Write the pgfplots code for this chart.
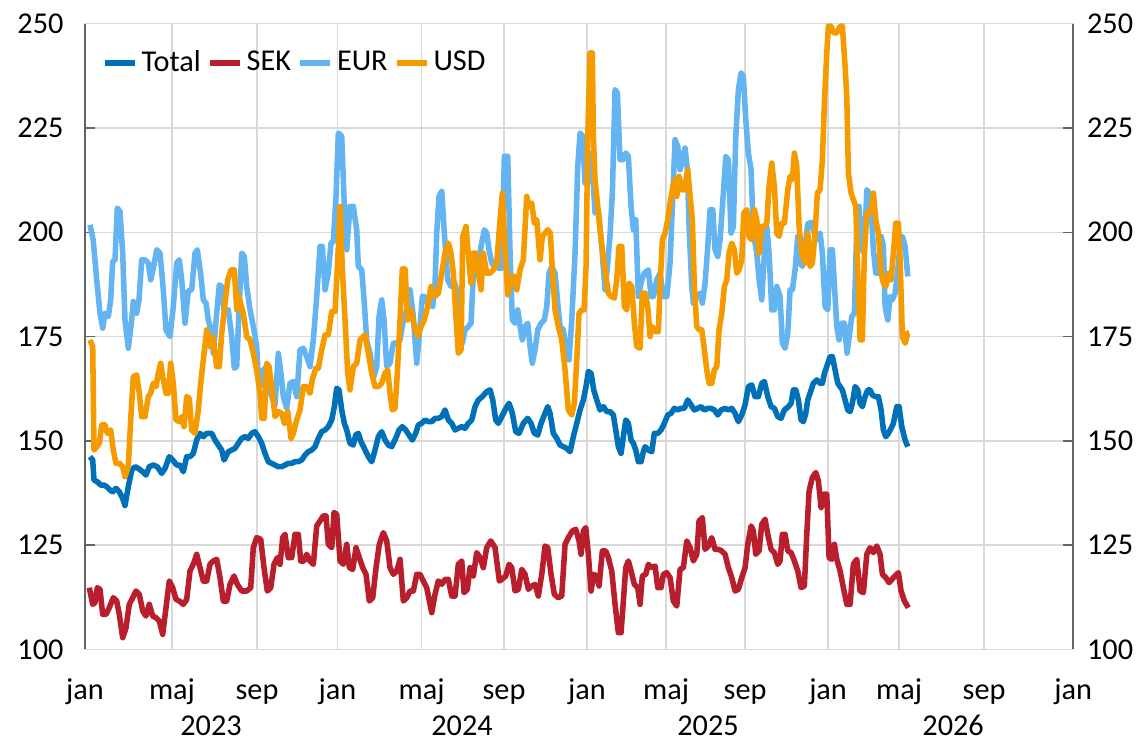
\documentclass[border=0pt]{standalone}
\usepackage{pgfplots}
\pgfplotsset{compat=1.18}
\usepackage{fontspec}
\setmainfont{Carlito}

\definecolor{cTotal}{RGB}{0,112,184}
\definecolor{cSEK}{RGB}{185,30,45}
\definecolor{cEUR}{RGB}{99,180,240}
\definecolor{cUSD}{RGB}{245,155,0}
\definecolor{gridgray}{RGB}{217,217,217}
\definecolor{axisgray}{RGB}{100,100,100}

\begin{document}
\begin{tikzpicture}
\useasboundingbox (0,0) rectangle (455.2pt,295pt);
\pgfplotsset{
  base/.style={
    scale only axis, width=391.8pt, height=248.1pt,
    at={(33.7pt,37.5pt)}, anchor=south west,
    xmin=85, xmax=1073, ymin=100, ymax=250,
    ytick={100,125,...,250},
    /pgf/number format/assume math mode=true,
    tick label style={font=\fontsize{12}{14}\selectfont},
  },
}
% x is the position along the time axis (ticks every four months, jan 2023 .. jan 2027)
\begin{axis}[base,
  xtick={85,172,257,337.5,421.5,504,587,666,745,828,899,984,1073},
  xticklabels={jan,maj,sep,jan,maj,sep,jan,maj,sep,jan,maj,sep,jan},
  xticklabel style={anchor=base, yshift=-20pt},
  xtick style={draw=none},
  ytick pos=both, yticklabel pos=left,
  ytick style={axisgray, line width=0.6pt},
  major tick length=4pt,
  yticklabel style={xshift=-5pt},
  grid=major, major grid style={gridgray, line width=0.6pt},
  axis line style={gridgray, line width=0.6pt},
  clip mode=individual,
  every axis plot/.append style={line width=2.2pt, line join=round},
  legend columns=4,
  legend style={at={(axis cs:102,240.6)}, anchor=west, draw=none, fill=none,
    inner sep=0pt, outer sep=0pt,
    nodes={inner sep=1.5pt, font=\fontsize{12}{14}\selectfont},
    /tikz/every even column/.append style={column sep=1pt}},
  legend image code/.code={\draw[#1] (0pt,0pt) -- (12pt,0pt);},
]

% Total
\addplot[cTotal] coordinates {
(90,146.2)(92.7,145.4)(94,140.6)(97.3,140.2)(100.7,139.4)(104,139.4)(106.7,139)(110,138.2)(112.7,137.8)(116,138.6)(119.3,137.8)(122.7,136.2)(125,134.5)(128.3,139)(131.7,143)(135,143.8)(138.3,143.4)(142.7,142.6)(146,141.8)(149.3,143.8)(153.3,144.2)(157.3,143.8)(161.7,142.2)(165,143.4)(169.3,146.2)(172.7,145.4)(176.7,144.2)(180,144.2)(183.3,142.6)(186.7,146.2)(190,146.2)(193.3,147)(196.7,150.2)(200,151.8)(203.3,151)(206.7,151.8)(211.7,151.8)(215,150.2)(218.3,149)(221.7,147.8)(224,145.4)(228.3,147.4)(231.7,147.8)(235,148.2)(238.3,149.4)(241.7,150.6)(245,151)(248.3,150.6)(251.7,151.8)(255,152.2)(258.3,151)(261.7,149.4)(265,147)(268.3,145)(271.7,144.6)(275,144.2)(278.3,143.8)(281.7,143.8)(285,144.2)(288.3,144.6)(291.7,144.6)(295,145)(298.3,145)(301.7,145.4)(305,146.6)(308.3,147.4)(311.7,147.8)(315,148.6)(318.3,150.6)(321.7,152.2)(325,152.6)(328.3,153.4)(331.7,155)(334.3,158.2)(336.7,162.6)(339,162.2)(341.7,157.4)(344.3,154.2)(346.7,152.6)(350,149.4)(353.3,149)(355.7,151.4)(358.3,151.8)(361,149.8)(364.3,148.2)(368.3,146.2)(371.7,145)(375,147.8)(378.3,151)(381.7,152.2)(385,150.2)(388.3,149)(391.7,148.6)(395.7,150.6)(399,152.6)(402.3,153.4)(405.7,152.6)(409,151.4)(412.3,150.2)(415.7,151.8)(418.3,153.8)(421.7,154.2)(425,155)(428.3,154.6)(431.7,154.6)(435,155.4)(438.3,155.4)(441.7,155.8)(445,157.4)(448.3,155)(451.7,154.2)(455,152.6)(458.3,153)(461.7,153.4)(465,153)(468.3,154.2)(471.7,155)(475,158.2)(478.3,159.8)(482.3,160.6)(486.7,161.8)(490,162.2)(492.7,159.8)(495.7,155)(498.3,154.2)(501.7,155.8)(505,157.4)(509,159)(512.3,156.6)(515.7,152.2)(519,151.8)(523.3,154.2)(527.7,155.4)(531,154.2)(534.3,151.8)(537.7,151.4)(541,154.2)(544.3,156.2)(547.7,158.2)(550,156.6)(553.3,151.8)(556.7,150.6)(560,149)(563.3,148.6)(566.7,148.2)(570,147.4)(573.3,151)(576.7,154.2)(580,157.4)(583.3,159.8)(586,163)(588.3,166.6)(591,166.2)(593.7,162.2)(596.7,159.8)(600,157.4)(603.3,158.2)(606.7,157)(610,157)(613.3,156.2)(615.7,152.6)(618.3,148.6)(621,147)(623.3,151)(625.7,155)(628.3,154.2)(631,150.2)(633.3,149.4)(635.7,147.8)(638.3,145)(641,145)(643.3,147.4)(645,148.6)(648.3,147.8)(651.7,147.4)(654.3,151.8)(657.7,151.8)(661,152.6)(664.3,154.2)(667.7,156.2)(671,156.6)(674.3,157.8)(677.7,157.4)(681,157.8)(684.3,157.8)(687.7,159.8)(691,158.6)(694.3,157.4)(697.7,157.8)(701,158.2)(704.3,157.4)(707.7,157.8)(711,157.8)(714.3,157.4)(717.7,156.2)(721,157.4)(725,157.8)(728.3,157.4)(731.7,157.8)(735,156.6)(738.3,154.6)(741.7,156.2)(745,158.6)(748.3,163)(751.7,163.4)(755,160.6)(758.3,160.6)(761.7,163.8)(764.3,164.2)(767.7,160.6)(771,158.2)(774.3,157.8)(777.7,155.8)(781,155.4)(784.3,157.4)(788.3,158.2)(791,159)(793.3,162.2)(795.7,162.2)(798.3,159.8)(801,155)(803.3,154.6)(805.7,156.6)(807.7,159.8)(810,161.4)(813.3,163.8)(816.7,164.6)(820,163.8)(822.3,163.8)(824.3,166.2)(826.7,167.8)(830,170.2)(832.3,170.2)(835,167)(837.7,163.8)(840,163)(842.3,162.2)(845,159.8)(847.7,157.4)(850,157)(852.3,159)(855,163)(857.7,162.2)(860,159)(862.3,158.2)(865,160.6)(867.7,162.2)(870,162.2)(872.3,161)(875,160.6)(878.3,160.6)(881,157.4)(883.3,152.6)(885.7,151)(888.3,151.8)(891,153)(893.3,154.2)(896.7,158.2)(899,158.2)(901.7,153.4)(905,150.2)(907.7,148.6)
};
\addlegendentry{Total}

% SEK
\addplot[cSEK] coordinates {
(89.3,114.8)(92.7,110.8)(95,111.2)(97.3,114.8)(100,114.4)(102.7,108.4)(106,108.4)(109.3,110)(113.3,112.4)(116.7,111.6)(119.3,108.4)(122.7,102.8)(126,105.2)(129.3,110.8)(132.7,112.4)(136,114)(139.3,113.2)(142.7,109.2)(146,108)(149.3,110.8)(152.7,108)(156,107.6)(159.3,106.8)(162.7,103.6)(166,110)(169.3,116.4)(172.7,114.8)(176,112)(179.3,111.6)(183.3,110.8)(186.7,112)(190,118.8)(193.3,120.4)(196.7,122.8)(200,119.6)(203.3,116.4)(206.7,116.4)(210,120.4)(213.3,121.2)(216.7,121.6)(220,117.2)(223.3,111.6)(226.7,111.6)(230,115.6)(234,117.6)(237.3,115.6)(241.7,114)(246.7,114)(250.7,114.8)(253.3,124.4)(256.7,126.8)(260.7,126.4)(264,119.6)(267.3,114)(270.7,114.8)(274,120.4)(277.3,122)(280,120.4)(282.7,126.8)(285,127.6)(288.3,122)(291.7,122)(295,127.6)(298.3,127.6)(300.7,121.2)(304,121.2)(306.7,122.8)(310,121.2)(313.3,120.4)(316.7,129.6)(320,130.8)(323.3,132)(326,132)(328.3,125.2)(331.7,124.4)(334,132.8)(336.7,132.4)(340,121.2)(343.3,120.4)(346.7,125.2)(349.3,119.6)(352.7,119.2)(356,124.4)(359.3,122)(362.7,119.6)(366,118)(369.3,111.6)(372.7,112.4)(376,119.6)(379.3,125.2)(383.3,128)(386.7,126)(390,119.6)(393.3,118)(396.7,118.8)(400,121.6)(403.3,111.6)(406.7,112.4)(410,114)(413.3,114)(416.7,118)(420,118)(423.3,116.4)(426.7,114.8)(431.7,108.8)(435,113.2)(438.3,116.4)(441.7,115.6)(445,116.8)(448.3,116.8)(451.7,112.8)(455,112.8)(458.3,120.4)(461.7,121.2)(464,113.6)(467.3,114.4)(470,119.6)(473.3,117.6)(476.7,123.2)(480,122)(483.3,119.6)(486.7,124.4)(490.7,126)(495,124.4)(499.3,116.4)(501.7,116.8)(505.7,117.6)(509,120.4)(511.7,119.6)(515,114)(518.3,114.4)(521.7,119.2)(525,118)(528.3,114.4)(531.7,115.2)(535,115.6)(538.3,112.8)(541.7,118)(545,124.8)(547.7,124.4)(551,118)(554.3,113.2)(558.3,112.4)(561.7,112.8)(565,125.2)(568.3,126.8)(572.3,128.4)(575.7,128.8)(579,126)(581,122.8)(583.3,128.4)(585.7,129.2)(588.3,122.8)(591,114)(593.7,118)(596.7,117.6)(599,115.2)(602.3,123.6)(605.7,123.6)(608.3,122)(611.7,118.8)(615,110.8)(618.3,104)(621,104)(623.3,111.6)(625.7,119.6)(628.3,121.2)(631,118.8)(634.3,115.6)(637.7,114.8)(640,110.8)(642.3,117.6)(645.7,118)(648.3,120.4)(651.7,119.6)(655,120)(657.7,114.8)(661,114.8)(663.3,118)(666.7,118.4)(670,117.2)(673.3,111.6)(676.7,110.4)(680,119.2)(683.3,119.6)(686.7,126)(690,124.4)(693.3,121.2)(696.7,122.8)(699,130.8)(702.3,131.6)(705,124)(708.3,124.8)(711.7,126.8)(715,124)(718.3,124)(721.7,123.6)(725,122.8)(728.3,119.6)(731.7,117.2)(735,114)(738.3,114.4)(741.7,117.2)(745,119.6)(747.7,125.2)(751,129.6)(753.3,128.4)(755.7,122.8)(759,123.6)(761.7,130)(765,131.2)(767.7,127.6)(771,124)(774.3,123.2)(777.7,120.4)(780,121.2)(782.3,127.6)(785,127.6)(787.7,123.6)(791,123.2)(794.3,121.2)(797.7,118.8)(801,114.8)(804.3,115.2)(806.7,127.6)(809,138)(812.3,141.2)(815.7,142.4)(818.3,140.4)(821,134)(823.3,137.2)(826.7,137.2)(829,122)(831.7,121.6)(834.3,125.2)(836.7,121.6)(840,118.8)(843.3,114.8)(846.7,110.8)(850,110.8)(853.3,120.4)(856.7,121.6)(860,114)(863.3,113.6)(866.7,122.8)(870,124.4)(873.3,123.2)(876.7,124.8)(880,122.8)(882.3,118)(885.7,117.2)(889,116)(893.3,117.2)(898.3,118.4)(901,114)(904.3,111.6)(908.3,110)
};
\addlegendentry{SEK}

% EUR
\addplot[cEUR] coordinates {
(90,201.8)(93.3,198)(96.7,188.6)(100,180.6)(102.7,177)(105,180.6)(108.3,179.8)(110.7,183.8)(112.7,193)(115,193.4)(117.3,205.8)(120,205)(122.7,195)(125,179)(128.3,172.2)(131.7,179)(133.3,183.4)(136.7,180.6)(139,183.8)(141.7,193.4)(145,193.4)(148.3,192.6)(150.7,188.6)(153.3,191.4)(156.7,195.8)(160,195)(163.3,186.2)(166,176.6)(170,175)(173.3,182.2)(176.7,192.6)(179.3,193.4)(181.7,188.6)(185,178.2)(188.3,186)(191.7,186.2)(195,195)(197.3,195.8)(200.7,190)(203.3,183.8)(206,183)(208.3,179)(211.7,175.8)(213.3,171)(216.7,180.6)(219.3,187.4)(221.7,187)(224,181.4)(228.3,181.4)(231.7,175)(234.3,167.4)(236.7,167.8)(239,181.4)(241.7,195)(244.3,194.2)(246.7,187)(250,181.4)(253.3,177.4)(256.7,172.6)(258.3,164.6)(260,163)(263.3,167)(266.7,167.8)(269,163)(271.7,160.6)(275,158.6)(278.3,171)(281,166.2)(283.3,160.6)(286.7,157.8)(290,163.8)(293.3,164.2)(296.7,160.6)(300,171.8)(303.3,172.2)(306.7,170.2)(310,167.8)(313.3,174.2)(316.7,184.6)(320,196.6)(322.3,196.6)(325,186.2)(328.3,190.2)(331,197.4)(333.3,197.8)(336,208.6)(338.3,223.8)(341.7,223)(344.3,206.2)(346.7,195.8)(350,206.2)(353.3,206.2)(356.7,200.5)(358.3,191.8)(361.7,191)(364.3,183)(366.7,174)(370,171)(373.3,165)(376.7,167.8)(379,179.8)(381.7,183.8)(384,179)(386.7,167.8)(390,168.6)(393.3,173.4)(396.7,173.4)(400,174.2)(403.3,179)(406.7,181.4)(410,186.2)(413.3,179.8)(416.7,168.6)(420,177.4)(422.3,184.6)(425,184.6)(427.7,183)(430,185)(432.7,182.2)(435,187.8)(436.7,199.8)(439,208.6)(441.7,209.8)(444.3,199.8)(447.7,188.6)(451,187)(453.3,188.6)(455.7,187)(459,179)(462.3,173.4)(465,176.6)(468.3,177.4)(471,178.2)(473.3,190.2)(475.7,193.4)(478.3,192.6)(481,196.6)(484.3,200.6)(486.7,199.8)(489,195.8)(491.7,192.6)(495,191.8)(498.3,191.4)(501.7,191.4)(504.3,218.2)(507.7,218.2)(510,195)(512.3,179)(515,178.2)(517.7,181.4)(520,177.4)(522.3,174.2)(525,177.4)(527.7,178.2)(530,172.6)(532.3,168.6)(535,171.8)(537.7,176.6)(541,178.2)(544.3,179)(546.7,182.2)(549,190.2)(551.7,191.8)(555,190.2)(557.7,183)(560,177.4)(563.3,176.6)(566,171.8)(569,169.4)(571.7,179)(575,195)(577.7,215.8)(580,223.8)(582.7,223)(585,211.8)(587.7,211.8)(590,219)(592.3,215.8)(595,204.6)(598.3,205.4)(601.7,196.6)(605,186.2)(607.7,192.6)(610,199.5)(612.3,209.4)(615,234.2)(617.3,233.4)(620,217.4)(623.3,217.4)(625.7,219)(628.3,218.2)(631,206.2)(633.3,200.6)(635.7,203)(638.3,184.6)(641.7,188.6)(644.3,190.2)(648.3,191)(651,184.6)(653.3,184.6)(656.7,188.6)(660,190.2)(663.3,184.6)(666.7,184.6)(670,192.6)(672.3,206.2)(675,222.2)(677.7,220.6)(680,215)(682.3,217.4)(685,220.2)(687.3,215)(689,201.4)(691.7,187)(693.3,183)(696.7,184.6)(700,185.4)(702.3,183)(705,187.8)(707.7,196.6)(710,205.4)(712.7,205.4)(715,195.8)(717.7,194.2)(720,198.2)(723.3,209.4)(725.7,218.2)(728.3,217.4)(731,199.8)(733.3,201.4)(735.7,223)(738.3,234.2)(741,238.2)(743.3,237.4)(745.7,227)(748.3,219)(751,215)(753.3,199.8)(756.7,195)(759,188.6)(761.7,183.8)(764.3,195)(766.7,201.4)(769,195)(771.7,181.4)(774.3,181.4)(776.7,187)(780,184.6)(782.3,173.4)(785,172.2)(787.7,175.8)(790,186.2)(792.3,186.2)(795,191)(797.7,199)(800,192.6)(802.3,191.8)(805,196.6)(807.7,202)(811,202.4)(813.3,200.5)(816.7,198.2)(820,199.8)(822.3,195)(825,182.2)(827.7,181.4)(830,195.8)(832.3,195.8)(835,184.6)(836.7,177.4)(839,174.2)(841.7,178.2)(844.3,178.2)(847,171)(849,174.8)(851.7,179.8)(854.3,180.6)(856.7,201.4)(859,206.2)(861.7,195.8)(864.3,195)(866.7,210.2)(869,209.4)(871.7,203)(873.3,195.8)(875.7,190.2)(878.3,190.2)(881,199)(883.3,196.6)(885,182.2)(887.7,179)(890,184.6)(892.3,183.8)(895,185.4)(897.7,191)(900,197.4)(902.3,199)(905,196.6)(907.7,189.4)
};
\addlegendentry{EUR}

% USD
\addplot[cUSD] coordinates {
(90,174.2)(92.7,172.6)(94,147.8)(96.7,148.6)(99.3,149.4)(101.7,153.8)(105,153.8)(107.3,151.8)(110.7,152.6)(113.3,147.8)(116,144.6)(119.3,144.6)(122.7,143.8)(125,141.4)(128.3,143.8)(130.7,155)(133.3,165.4)(136.7,165.8)(139.3,161.4)(141.7,155.8)(145,155.8)(148.3,160.6)(150.7,161.4)(153.3,163.8)(156,163)(158.3,166.2)(160.7,168.6)(162.7,165.4)(166,161.4)(168.3,161.4)(170.7,168.6)(173.3,163.8)(176,155)(179.3,154.6)(181.7,155.8)(184,153.4)(186.7,160.6)(189.3,160.2)(191.7,152.6)(195,151.8)(198.3,157.4)(200.7,163.8)(203.3,169.4)(206.7,176.6)(210,172.6)(212.7,175)(216.7,167.8)(219.3,167.8)(221.7,175.8)(225,183)(227.7,188.6)(231,191)(234.3,191)(236.7,181.4)(238.3,185)(243.3,180.6)(246.7,175)(250,174.2)(253.3,171)(256.7,167)(260,161.4)(261.7,155.4)(264.3,155.4)(266.7,168.6)(269,167.8)(271.7,163)(275,155.8)(278.3,157)(281.7,156.6)(284.3,154.2)(287.7,157)(291,150.6)(293.3,151.8)(296.7,155)(300,157.4)(303.3,163)(306.7,163)(310,161.4)(312.3,164.6)(315.7,167.4)(318.3,167.4)(321.7,171.8)(325,175.4)(328.3,175.4)(331.7,181)(335,181)(337.7,193)(340,206.2)(342.3,191.4)(345,179)(347.7,166.2)(350,162.2)(353.3,167.8)(356.7,168.6)(360,174.2)(363.3,175)(365,175.4)(368.3,171)(371.7,166.2)(375,163)(378.3,163)(381.7,163.8)(385,166.2)(387.7,167)(390,161.4)(392.3,157.4)(395,157.8)(397.3,166.2)(400,179)(402.3,191.2)(405,191.2)(407.7,179)(411,181.4)(414.3,177.4)(417.7,175)(421,177.4)(424.3,179)(427.7,182.2)(431,187)(435,184.6)(438.3,185.4)(441.7,190.2)(445,195)(448.3,197.4)(451,195)(453.3,190.2)(455.7,180.6)(458.3,171)(461,171.8)(462.7,198.9)(466,201.4)(469,192.6)(471,187.8)(473.3,195)(476,195)(478.3,190.2)(481,186.2)(483.3,195)(486.7,190.2)(490,190.2)(493.3,191)(496.7,192.6)(500,203)(502.3,209.4)(505,196)(507.7,185)(511.7,189.4)(514.3,189.4)(516.7,186.2)(520,191)(523.3,193.4)(526.7,208.6)(529,206.2)(531.7,207)(534.3,202.2)(536.7,203)(540,193.4)(542.3,199)(545,199.8)(547.7,200.6)(550.3,199.8)(552.3,191)(555,181.4)(558.3,177.4)(561.7,174.2)(565,167)(568.3,157.4)(571.7,156.2)(574.3,159)(576.7,169.4)(579,180.6)(581.7,181.4)(584,181.4)(586,191.8)(587.7,223)(590,243)(592.3,243)(593.3,223)(595,212.6)(597.7,206.2)(600,200.6)(602.3,195.8)(605,191)(608.3,185.4)(611,184.6)(614.3,184.2)(616.7,188.6)(619,196.6)(621.7,196.6)(624.3,182.2)(626.7,181.4)(629,187.8)(631.7,187)(634.3,178.2)(636.7,172.6)(640,172.2)(642.3,185.4)(645,185.4)(647.7,182.2)(650,175)(652.3,177.4)(655,176.2)(658.3,176.2)(660,187)(662.3,198.2)(665,199.8)(667.7,203)(671,208.6)(674.3,212.6)(676.7,208.6)(679,213.4)(681.7,210.2)(684.3,210.2)(687.7,215)(690,208.6)(692.3,203)(694.3,187)(696.7,177.4)(699,176.6)(701.7,176.6)(704.3,171.8)(706.7,167)(709,163.8)(711.7,163.8)(714.3,167)(716.7,167.8)(719,176.6)(721.7,180.6)(724.3,187)(726.7,188.6)(729,195)(731.7,197.4)(734.3,195.8)(736.7,190.2)(739,191)(741.7,193.4)(743.7,204.6)(746.7,205.4)(749,198.9)(751.7,198.2)(754.3,205.4)(756.7,203)(759,195)(761.7,201.4)(764.3,201.4)(766.7,202.2)(769,211)(771.7,216.6)(774.3,211)(776.7,199.8)(779,199)(781.7,202.2)(784.3,202.2)(787.7,210.2)(790,213.4)(792.3,212.6)(794.3,219)(796.7,215.8)(799,201.4)(801.7,195)(805,192.6)(807.7,199.8)(810,191.8)(812.3,192.6)(815,199.8)(817.3,209.4)(820,210.2)(822.3,217.4)(824.3,231)(826.7,243)(828.3,249.4)(831,249.4)(833.3,247.8)(836.7,247.8)(840,249.4)(842.3,249.4)(845,239.8)(846.7,232.6)(848.3,214.2)(851,209.4)(853.3,207.8)(855.7,206.2)(857.7,190.2)(860,174.2)(862.3,174.2)(864.3,195)(866.7,204.6)(869,204.6)(871.7,206.2)(873.3,209.4)(875.7,203)(878.3,199.8)(881,190.2)(883.3,187.8)(885.7,187)(888.3,190.2)(891,188.6)(893.3,195)(895.7,202.2)(898.3,202.2)(900,193.4)(902.3,175)(905,173.4)(907.7,175.8)(909,175.8)
};
\addlegendentry{USD}

% darker left and right axis lines
\draw[axisgray, line width=0.8pt] (rel axis cs:0,0) -- (rel axis cs:0,1);
\draw[axisgray, line width=0.8pt] (rel axis cs:1,0) -- (rel axis cs:1,1);

% year labels under the month ticks
\node[anchor=base, yshift=-34pt, font=\fontsize{12}{14}\selectfont] at (axis cs:211,100) {2023};
\node[anchor=base, yshift=-34pt, font=\fontsize{12}{14}\selectfont] at (axis cs:462,100) {2024};
\node[anchor=base, yshift=-34pt, font=\fontsize{12}{14}\selectfont] at (axis cs:708,100) {2025};
\node[anchor=base, yshift=-34pt, font=\fontsize{12}{14}\selectfont] at (axis cs:953,100) {2026};
\end{axis}

% right-hand tick labels
\begin{axis}[base, hide x axis, axis y line*=right,
  ytick style={draw=none}, axis line style={draw=none},
  yticklabel style={xshift=2pt}]
\end{axis}
\end{tikzpicture}
\end{document}
